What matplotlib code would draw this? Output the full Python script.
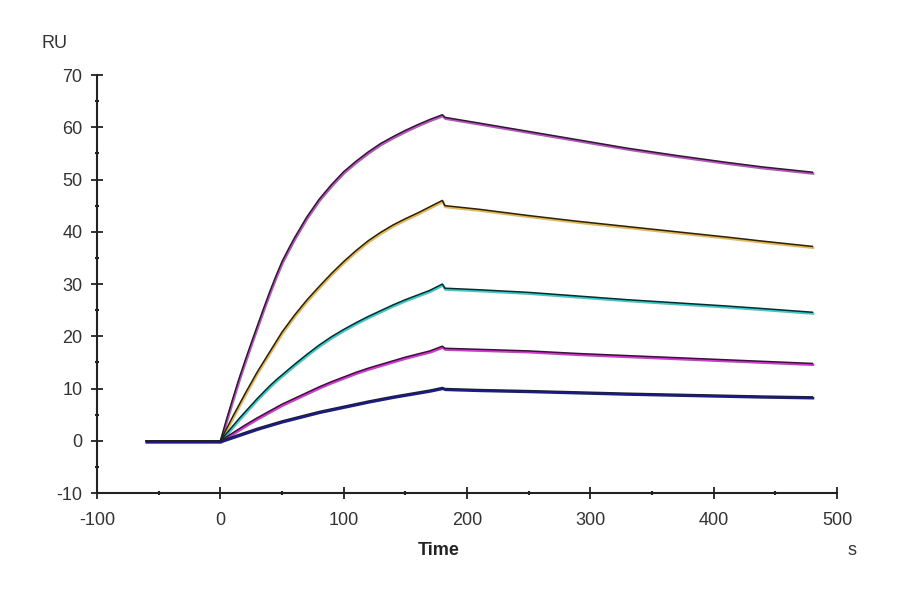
import matplotlib
matplotlib.use("Agg")
import matplotlib.pyplot as plt
import matplotlib.transforms as mtransforms
from matplotlib.ticker import MultipleLocator

plt.rcParams['font.family'] = ['Liberation Sans', 'DejaVu Sans']
plt.rcParams['axes.unicode_minus'] = False

# Baseline (before injection)
t_base = [-60, -40, -20, 0]
ru_base = [0.0, 0.0, 0.0, 0.0]

# Association phase times (s)
t_assoc = [0, 5, 10, 15, 20, 25, 30, 35, 40, 45, 50, 55, 60, 70, 80, 90,
           100, 110, 120, 130, 140, 150, 160, 170, 180]
# Dissociation phase times (s)
t_dissoc = [182, 210, 250, 290, 330, 370, 410, 440, 480]

# Association values (RU), five concentrations, high to low
assoc_1 = [0, 4.1, 8.0, 11.8, 15.3, 18.7, 22.0, 25.3, 28.5, 31.5, 34.3, 36.6, 38.8,
           42.8, 46.2, 49.0, 51.5, 53.5, 55.3, 56.9, 58.2, 59.4, 60.5, 61.5, 62.4]
assoc_2 = [0, 2.3, 4.6, 6.8, 9.0, 11.1, 13.2, 15.1, 17.0, 18.9, 20.8, 22.4, 24.0,
           26.9, 29.5, 32.0, 34.3, 36.4, 38.3, 39.9, 41.3, 42.5, 43.6, 44.8, 46.0]
assoc_3 = [0, 1.4, 2.8, 4.2, 5.5, 6.8, 8.1, 9.3, 10.5, 11.6, 12.6, 13.6, 14.6,
           16.5, 18.3, 19.9, 21.3, 22.6, 23.8, 24.9, 26.0, 27.0, 27.9, 28.8, 30.0]
assoc_4 = [0, 0.75, 1.5, 2.25, 3.0, 3.7, 4.4, 5.05, 5.7, 6.35, 7.0, 7.55, 8.1,
           9.2, 10.3, 11.3, 12.2, 13.1, 13.9, 14.6, 15.3, 16.0, 16.6, 17.2, 18.1]
assoc_5 = [0, 0.4, 0.8, 1.2, 1.6, 2.0, 2.4, 2.75, 3.1, 3.45, 3.8, 4.1, 4.4,
           5.0, 5.6, 6.1, 6.6, 7.1, 7.6, 8.05, 8.5, 8.9, 9.3, 9.7, 10.2]

# Dissociation values (RU)
dissoc_1 = [61.9, 60.8, 59.2, 57.6, 56.0, 54.6, 53.3, 52.4, 51.4]
dissoc_2 = [45.0, 44.3, 43.1, 42.0, 41.0, 40.0, 39.0, 38.2, 37.2]
dissoc_3 = [29.2, 28.9, 28.4, 27.7, 27.0, 26.4, 25.8, 25.3, 24.6]
dissoc_4 = [17.7, 17.5, 17.2, 16.7, 16.3, 15.9, 15.5, 15.2, 14.8]
dissoc_5 = [10.0, 9.8, 9.6, 9.35, 9.1, 8.9, 8.7, 8.55, 8.4]

colors = ['#c050c8', '#e8b848', '#30d0d0', '#e030e0', '#1818a0']
assoc = [assoc_1, assoc_2, assoc_3, assoc_4, assoc_5]
dissoc = [dissoc_1, dissoc_2, dissoc_3, dissoc_4, dissoc_5]

fig = plt.figure(figsize=(9, 5.94), dpi=100)
ax = fig.add_axes([0.1078, 0.17, 0.8222, 0.7037])

shift = mtransforms.ScaledTranslation(0.6 / 100, -1.3 / 100, fig.dpi_scale_trans)
t_all = t_base + t_assoc[1:] + t_dissoc
for c, a, d in zip(colors, assoc, dissoc):
    y_all = ru_base + a[1:] + d
    ax.plot(t_all, y_all, color=c, lw=1.9, zorder=2,
            transform=ax.transData + shift)
for a, d in zip(assoc, dissoc):
    y_all = ru_base + a[1:] + d
    ax.plot(t_all, y_all, color='#222222', lw=1.1, zorder=3)

ax.set_xlim(-100, 500)
ax.set_ylim(-10, 70)
ax.xaxis.set_major_locator(MultipleLocator(100))
ax.xaxis.set_minor_locator(MultipleLocator(50))
ax.yaxis.set_major_locator(MultipleLocator(10))
ax.yaxis.set_minor_locator(MultipleLocator(5))

for s in ['top', 'right']:
    ax.spines[s].set_visible(False)
for s in ['left', 'bottom']:
    ax.spines[s].set_linewidth(1.5)
    ax.spines[s].set_color('#222222')

ax.tick_params(which='major', direction='inout', length=9, width=1.3,
               colors='#222222', labelsize=13, labelcolor='#333333')
ax.tick_params(axis='x', which='major', pad=9)
ax.tick_params(axis='y', which='major', pad=6)
ax.tick_params(which='minor', direction='inout', length=3, width=1.5,
               colors='#222222')

fig.text(0.487, 0.074, 'Time', ha='center', va='center', fontsize=13,
         fontweight='bold', color='#222222')
fig.text(0.947, 0.074, 's', ha='center', va='center', fontsize=13, color='#333333')
fig.text(0.061, 0.926, 'RU', ha='center', va='center', fontsize=13, color='#333333')

fig.savefig('out.png', dpi=100)
